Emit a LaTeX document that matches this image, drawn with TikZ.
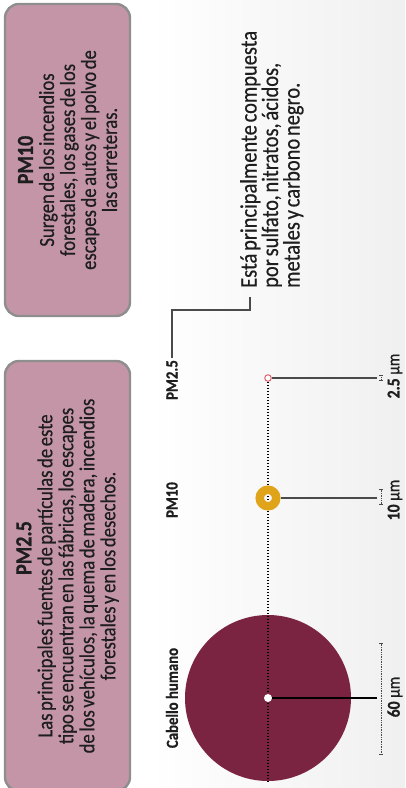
\documentclass[tikz,border=0pt]{standalone}
\usepackage{fontspec}
\setmainfont{Carlito}
\newfontfamily\condfont{Carlito}[FakeStretch=0.87, UprightFeatures={FakeBold=0.5}, BoldFeatures={FakeBold=0.6}]
\usetikzlibrary{arrows.meta}

\definecolor{boxpink}{HTML}{C495A6}
\definecolor{boxedge}{HTML}{8E8E8E}
\definecolor{hairred}{HTML}{7B2442}
\definecolor{dustgold}{HTML}{E0A41A}
\definecolor{finered}{HTML}{E0606E}
\definecolor{inkgray}{HTML}{1E1E1E}
\definecolor{leadgray}{HTML}{4A4A4A}

\newcommand{\boxfont}{\condfont\fontsize{21.5}{21}\selectfont\spaceskip=0.12em plus 0.05em\relax}
\newcommand{\notefont}{\condfont\fontsize{23.5}{21.5}\selectfont\spaceskip=0.12em plus 0.05em\relax}

\begin{document}
\begin{tikzpicture}[x=1pt, y=-1pt,
    % Pink info boxes with rotated text
    infobox/.style={
        draw=boxedge,
        line width=2.4pt,
        fill=boxpink,
        rounded corners=14pt,
        rotate=90,
        minimum height=125pt,
        inner sep=0pt,
        align=center,
        text=inkgray,
        font=\boxfont
    },
    % Bold labels of the particles
    tag/.style={rotate=90, inner sep=2pt, text=inkgray, font=\condfont\fontsize{17}{18}\selectfont\bfseries},
    % Size labels at the right
    sizetag/.style={rotate=90, inner sep=0pt, text=inkgray, font=\condfont\fontsize{18}{18}\selectfont},
    % Lines
    leader/.style={draw=leadgray, line width=1.3pt},
    dotline/.style={draw=black, line width=1.7pt, dash pattern=on 1.4pt off 1.6pt},
    scalebar/.style={draw=leadgray, line width=0.8pt, dash pattern=on 0.8pt off 0.9pt, {Bar[width=3.5pt,line width=0.8pt]}-{Bar[width=3.5pt,line width=0.8pt]}}
    ]

    \useasboundingbox (0,0) rectangle (405,788);
    \shade[left color=white, right color=black!6] (150,0) rectangle (405,788);

    % Info boxes
    \node[infobox, minimum width=312pt] (boxten) at (67.5,160)
        {{\fontsize{23}{21}\selectfont\bfseries PM10}\\Surgen de los incendios\\forestales, los gases de los\\escapes de autos y el polvo de\\las carreteras.};

    \node[infobox, minimum width=430pt] (boxtwo) at (67.5,576)
        {\hspace*{56pt}{\fontsize{23}{21}\selectfont\bfseries PM2.5}\\Las principales fuentes de partículas de este\\tipo se encuentran en las fábricas, los escapes\\de los vehículos, la quema de madera, incendios\\forestales y en los desechos.};

    % Particles
    \node[circle, fill=hairred, minimum size=166pt, inner sep=0pt] (hair) at (268,698) {};
    \node[circle, draw=finered, fill=white, line width=1pt, minimum size=6.5pt, inner sep=0pt] (pmtwo) at (268,378) {};

    % Dotted axis through the centres
    \draw[dotline] (pmtwo.south) -- (hair.south);
    \node[circle, draw=dustgold, line width=8.5pt, minimum size=16.5pt, inner sep=0pt] (pmten) at (268,498) {};

    % Names
    \node[tag] (taghair) at (172,698) {Cabello humano};
    \node[tag] (tagten) at (172,500) {PM10};
    \node[tag] (tagtwo) at (172,380) {PM2.5};

    % Note on PM2.5
    \node[rotate=90, anchor=north west, align=left, inner sep=0pt, text=inkgray, font=\notefont] (compo) at (240,288)
        {Está principalmente compuesta\\por sulfato, nitratos, ácidos,\\metales y carbono negro.};
    \coordinate (compofoot) at (250,297);
    \draw[leader] (tagtwo.east) |- ([yshift=-13pt]compofoot) -- (compofoot);

    % Leaders to the scale bars
    \coordinate (hairend) at (377,698);
    \coordinate (tenend) at (377,498);
    \coordinate (twoend) at (377,378);
    \draw[leader, draw=black] (hair.center) -- (hairend);
    \draw[leader] (pmten.east) -- (tenend);
    \draw[leader] (pmtwo.east) -- (twoend);
    \node[circle, fill=white, minimum size=8pt, inner sep=0pt] (haircore) at (hair) {};

    % Scale bars
    \draw[scalebar] (381,643) -- (381,755);
    \draw[scalebar] (381,489) -- (381,505);
    \draw[scalebar] (381,374.5) -- (381,381);

    \node[sizetag] (sizehair) at (395,697) {\textbf{60} μm};
    \node[sizetag] (sizeten) at (395,500) {\textbf{10} μm};
    \node[sizetag] (sizetwo) at (395,376) {\textbf{2.5} μm};

\end{tikzpicture}
\end{document}
